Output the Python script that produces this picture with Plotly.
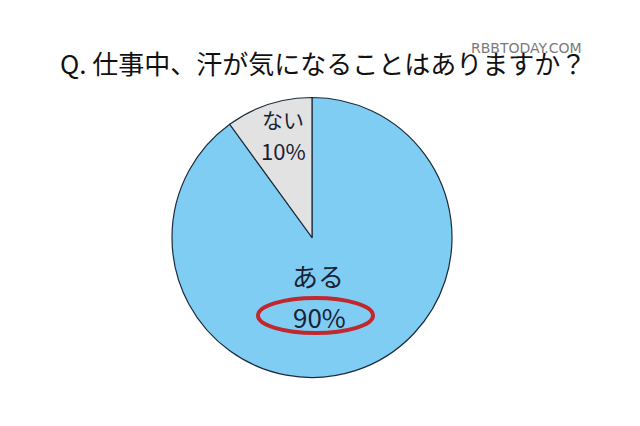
import plotly.graph_objects as go

labels = ["ある", "ない"]
values = [90, 10]
pct_text = ["90%", "10%"]
colors = ["#80cdf3", "#e2e2e2"]
title_text = "Q. 仕事中、汗が気になることはありますか？"
watermark = "RBBTODAY.COM"

W, H = 640, 426
OFF = 8  # page body margin
def px(x):
    return (x - OFF) / W
def py(y):
    return 1 - (y - OFF) / H

fig = go.Figure()
fig.add_trace(go.Pie(
    labels=labels, values=values, sort=False, direction="clockwise", rotation=0,
    marker=dict(colors=colors, line=dict(color="#1c2a3a", width=1.2)),
    textinfo="none", hoverinfo="label+percent", showlegend=False,
    domain=dict(x=[px(172), px(452)], y=[py(378), py(97)]),
))

font_family = "Noto Sans CJK JP, sans-serif"
txt_col = "#1a2233"
ann = []
# ない 10%
ann.append(dict(x=px(283), y=py(119), text=labels[1], font=dict(size=21, color=txt_col, family=font_family)))
ann.append(dict(x=px(283), y=py(150), text=pct_text[1], font=dict(size=22, color=txt_col, family=font_family)))
# ある 90%
ann.append(dict(x=px(318), y=py(275), text=labels[0], font=dict(size=26, color=txt_col, family=font_family)))
ann.append(dict(x=px(319), y=py(316), text=pct_text[0], font=dict(size=26, color=txt_col, family=font_family)))
# title
ann.append(dict(x=px(323), y=py(62), text=title_text, font=dict(size=26, color="#111111", family=font_family)))
# watermark
ann.append(dict(x=px(526), y=py(48), text=watermark, font=dict(size=14, color="#7a7a7a", family="DejaVu Sans, sans-serif")))
for a in ann:
    a.update(xref="paper", yref="paper", showarrow=False, xanchor="center", yanchor="middle")

fig.update_layout(
    width=W, height=H,
    margin=dict(l=0, r=0, t=0, b=0),
    paper_bgcolor="white", plot_bgcolor="white",
    annotations=ann,
    shapes=[dict(type="circle", xref="paper", yref="paper",
                 x0=px(258), x1=px(373), y0=py(333), y1=py(298),
                 line=dict(color="#c0282e", width=4))],
)

fig.write_html("out.html")
